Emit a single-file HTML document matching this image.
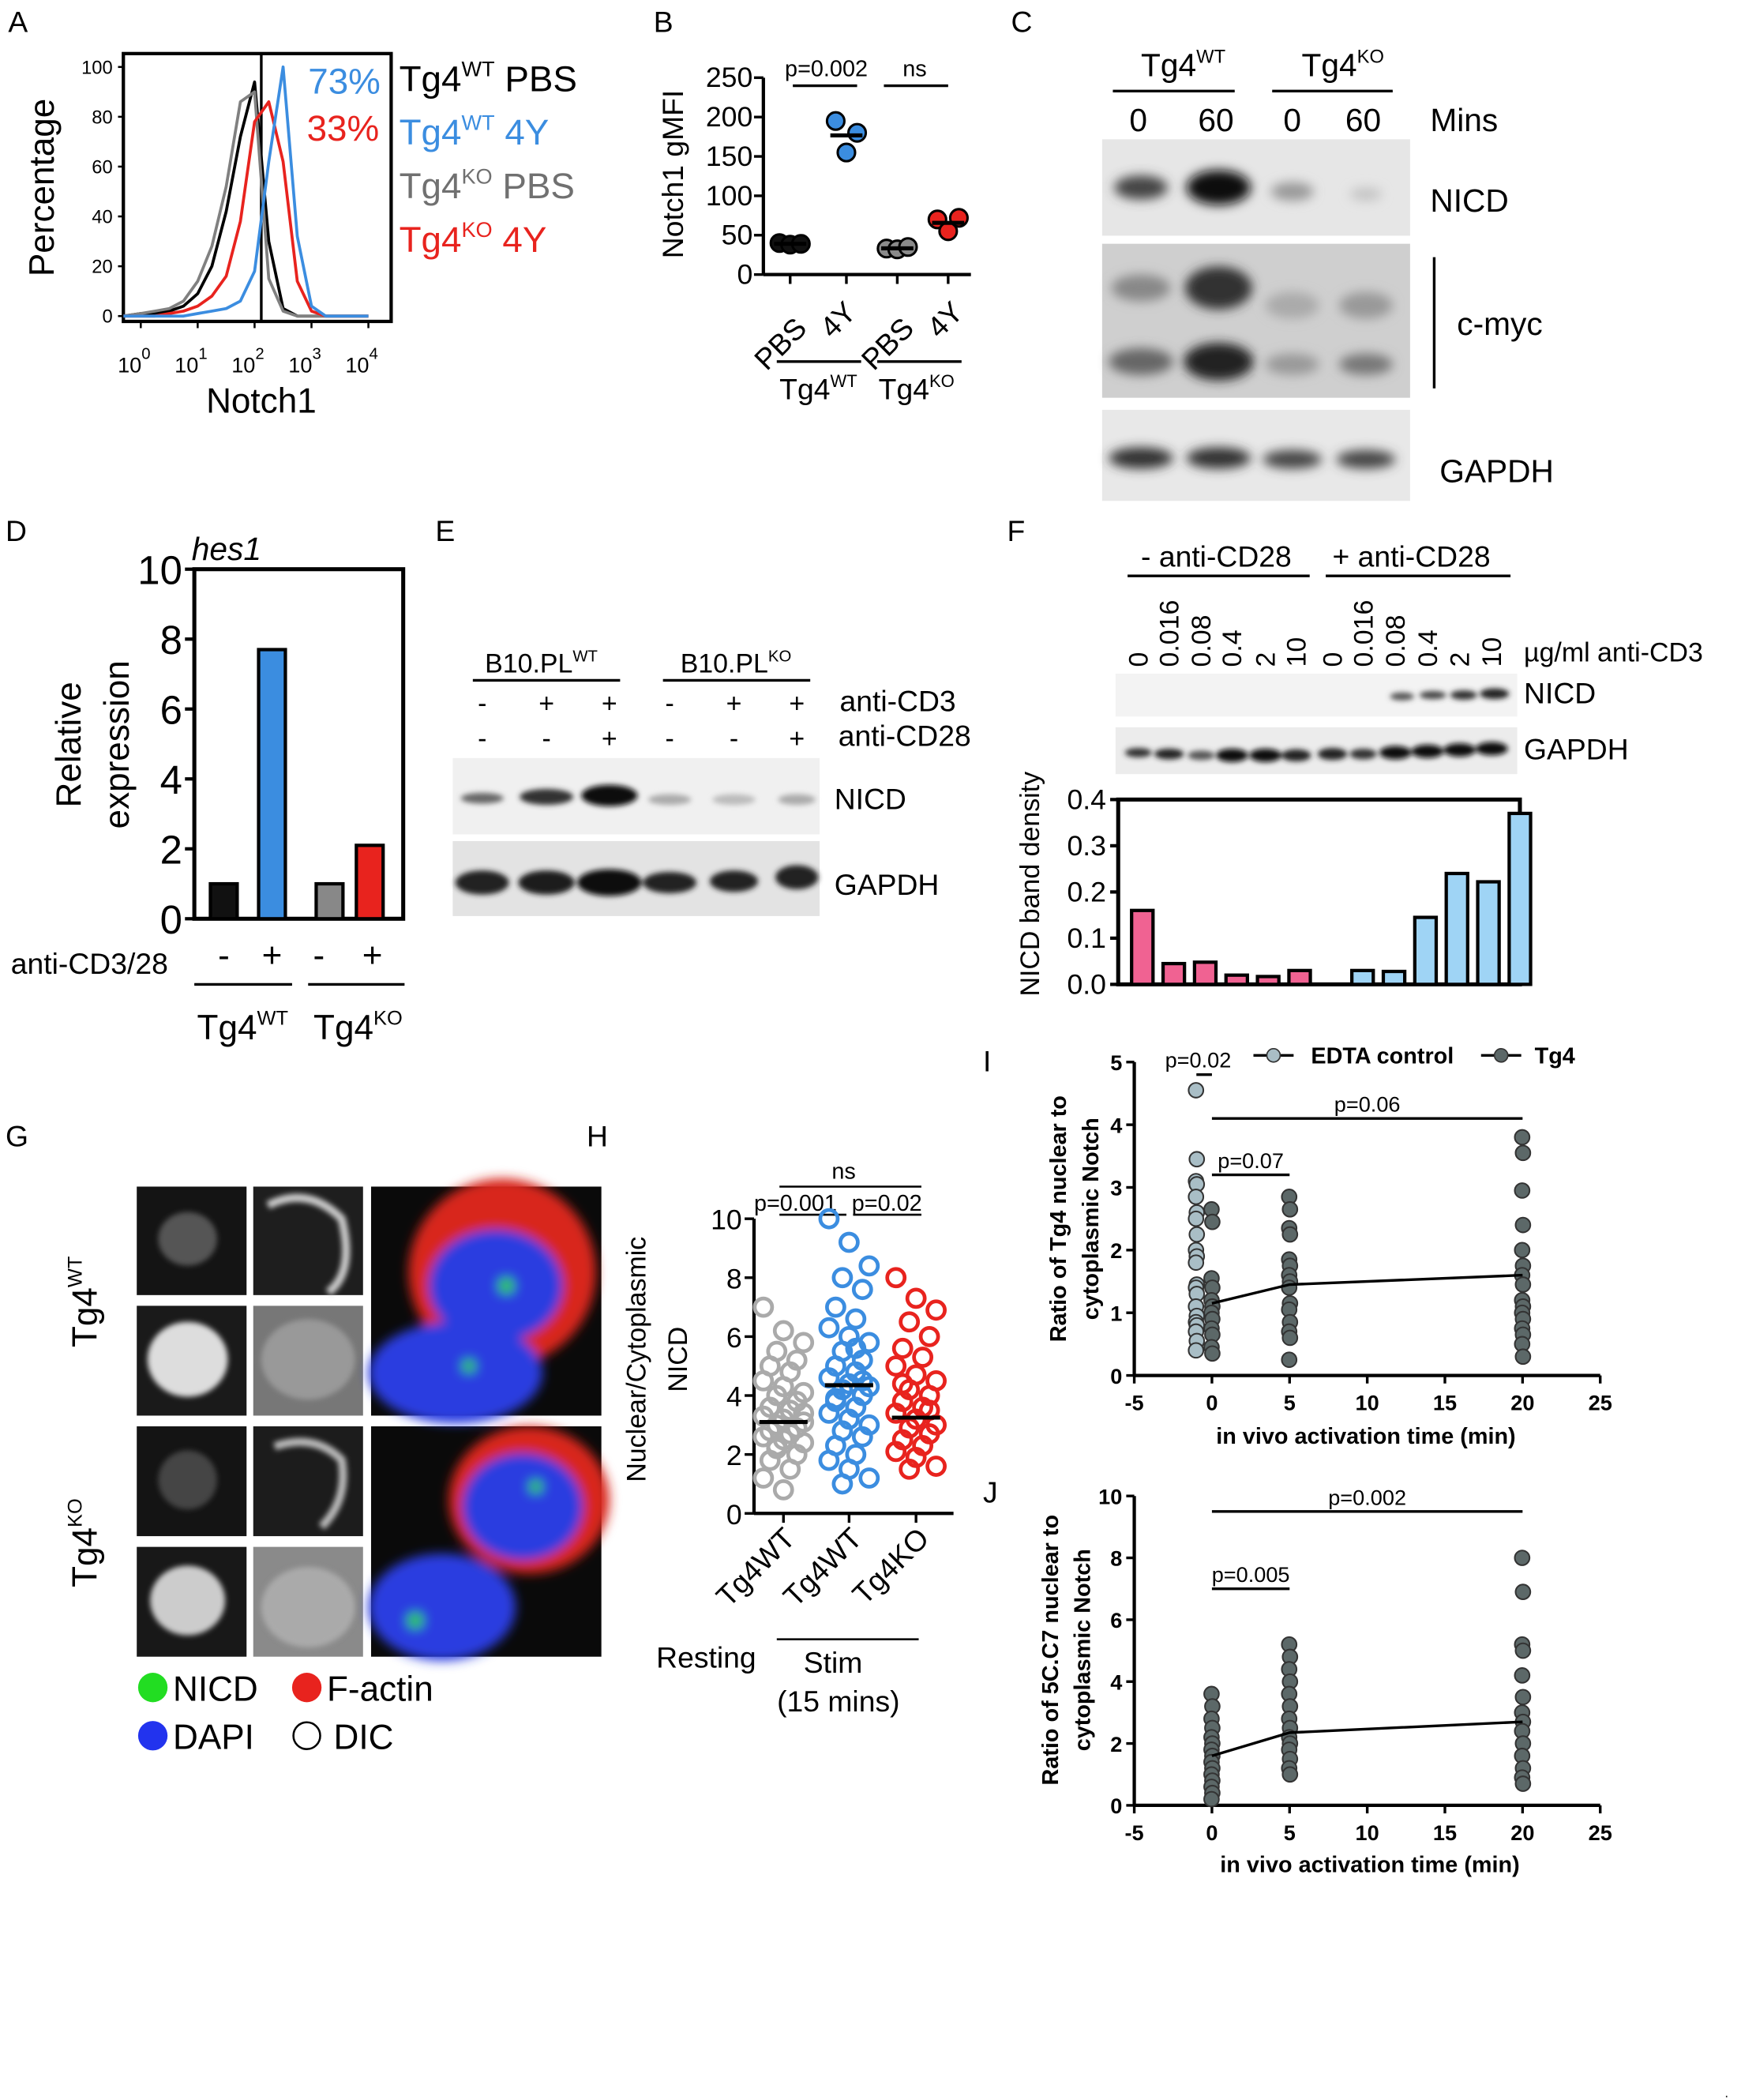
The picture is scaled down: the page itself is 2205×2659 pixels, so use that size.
<!DOCTYPE html>
<html><head><meta charset="utf-8"><style>
html,body{margin:0;padding:0;background:#fff}
svg{display:block;font-family:"Liberation Sans",Arial,sans-serif}
</style></head><body>
<svg id="fig" xmlns="http://www.w3.org/2000/svg" width="2205" height="2659" viewBox="0 0 1300 1568">
<rect width="1300" height="1568" fill="#fff"/>
<defs>
<filter id="blur2"><feGaussianBlur stdDeviation="4"/></filter>
<filter id="blur1"><feGaussianBlur stdDeviation="2"/></filter>
</defs>
<g font-size="22">
<text x="6" y="24">A</text><text x="488" y="24">B</text><text x="755" y="24">C</text>
<text x="4" y="404">D</text><text x="325" y="404">E</text><text x="752" y="404">F</text>
<text x="4" y="856">G</text><text x="438" y="856">H</text><text x="734" y="800">I</text><text x="734" y="1122">J</text>
</g>

<g id="pa">
<rect x="92" y="40" width="200" height="200" fill="none" stroke="#000" stroke-width="2.5"/>
<line x1="195" y1="40" x2="195" y2="240" stroke="#000" stroke-width="2"/>
<text transform="translate(40,140) rotate(-90)" text-anchor="middle" font-size="26">Percentage</text>
<text x="195" y="308" text-anchor="middle" font-size="26">Notch1</text>
<text x="230" y="70" font-size="27" fill="#3b8de0">73%</text>
<text x="229" y="105" font-size="27" fill="#e8231e">33%</text>
<g font-size="27">
<text x="298" y="68">Tg4<tspan font-size="16" dy="-11">WT</tspan><tspan dy="11"> PBS</tspan></text>
<text x="298" y="108" fill="#3b8de0">Tg4<tspan font-size="16" dy="-11">WT</tspan><tspan dy="11"> 4Y</tspan></text>
<text x="298" y="148" fill="#707070">Tg4<tspan font-size="16" dy="-11">KO</tspan><tspan dy="11"> PBS</tspan></text>
<text x="298" y="188" fill="#e8231e">Tg4<tspan font-size="16" dy="-11">KO</tspan><tspan dy="11"> 4Y</tspan></text>
</g>
</g>

<g id="pb">
<text transform="translate(510,130) rotate(-90)" text-anchor="middle" font-size="22">Notch1 gMFI</text>
<text x="617" y="57" text-anchor="middle" font-size="17">p=0.002</text>
<line x1="592" y1="64" x2="640" y2="64" stroke="#000" stroke-width="2"/>
<text x="683" y="57" text-anchor="middle" font-size="17">ns</text>
<line x1="660" y1="64" x2="708" y2="64" stroke="#000" stroke-width="2"/>
<g font-size="22" text-anchor="middle">
<text transform="translate(588,262) rotate(-45)">PBS</text><text transform="translate(631,244) rotate(-45)">4Y</text>
<text transform="translate(668,262) rotate(-45)">PBS</text><text transform="translate(711,244) rotate(-45)">4Y</text>
</g>
<line x1="580" y1="270" x2="643" y2="270" stroke="#000" stroke-width="2"/>
<line x1="655" y1="270" x2="718" y2="270" stroke="#000" stroke-width="2"/>
<text x="582" y="298" font-size="22">Tg4<tspan font-size="13" dy="-9">WT</tspan></text>
<text x="656" y="298" font-size="22">Tg4<tspan font-size="13" dy="-9">KO</tspan></text>
</g>

<g id="pc">
<text x="852" y="57" font-size="24">Tg4<tspan font-size="14" dy="-10">WT</tspan></text>
<text x="972" y="57" font-size="24">Tg4<tspan font-size="14" dy="-10">KO</tspan></text>
<line x1="831" y1="68" x2="922" y2="68" stroke="#000" stroke-width="2"/>
<line x1="950" y1="68" x2="1040" y2="68" stroke="#000" stroke-width="2"/>
<g font-size="24" text-anchor="middle"><text x="850" y="98">0</text><text x="908" y="98">60</text><text x="965" y="98">0</text><text x="1018" y="98">60</text></g>
<text x="1068" y="98" font-size="24">Mins</text>
<rect x="823" y="104" width="230" height="72" fill="#e6e6e6"/>
<rect x="823" y="182" width="230" height="115" fill="#cfcfcf"/>
<rect x="823" y="306" width="230" height="68" fill="#e8e8e8"/>
<g filter="url(#blur2)">
<ellipse cx="852" cy="140" rx="20" ry="9" fill="#444"/><ellipse cx="910" cy="140" rx="24" ry="13" fill="#111"/>
<ellipse cx="965" cy="143" rx="16" ry="7" fill="#999"/><ellipse cx="1020" cy="145" rx="12" ry="5" fill="#c4c4c4"/>
<ellipse cx="852" cy="215" rx="22" ry="10" fill="#888"/><ellipse cx="910" cy="215" rx="25" ry="16" fill="#333"/>
<ellipse cx="852" cy="270" rx="24" ry="10" fill="#666"/><ellipse cx="910" cy="270" rx="26" ry="14" fill="#222"/>
<ellipse cx="965" cy="228" rx="20" ry="10" fill="#aaa"/><ellipse cx="1020" cy="228" rx="20" ry="10" fill="#999"/>
<ellipse cx="965" cy="272" rx="20" ry="8" fill="#999"/><ellipse cx="1020" cy="272" rx="20" ry="8" fill="#777"/>
<ellipse cx="852" cy="342" rx="24" ry="8" fill="#333"/><ellipse cx="910" cy="342" rx="24" ry="8" fill="#333"/>
<ellipse cx="965" cy="343" rx="22" ry="7" fill="#444"/><ellipse cx="1020" cy="343" rx="22" ry="7" fill="#444"/>
</g>
<text x="1068" y="158" font-size="24">NICD</text>
<line x1="1071" y1="192" x2="1071" y2="290" stroke="#000" stroke-width="2"/>
<text x="1088" y="250" font-size="24">c-myc</text>
<text x="1075" y="360" font-size="24">GAPDH</text>
</g>

<g id="pd">
<text x="143" y="418" font-size="24" font-style="italic">hes1</text>
<text transform="translate(60,556) rotate(-90)" text-anchor="middle" font-size="26">Relative</text>
<text transform="translate(96,556) rotate(-90)" text-anchor="middle" font-size="26">expression</text>
<text x="8" y="727" font-size="22">anti-CD3/28</text>
<g font-size="26" text-anchor="middle"><text x="167" y="722">-</text><text x="203" y="722">+</text><text x="238" y="722">-</text><text x="278" y="722">+</text></g>
<line x1="145" y1="735" x2="218" y2="735" stroke="#000" stroke-width="2"/>
<line x1="230" y1="735" x2="302" y2="735" stroke="#000" stroke-width="2"/>
<text x="147" y="776" font-size="26">Tg4<tspan font-size="15" dy="-11">WT</tspan></text>
<text x="234" y="776" font-size="26">Tg4<tspan font-size="15" dy="-11">KO</tspan></text>
</g>

<g id="pe">
<text x="362" y="502" font-size="20">B10.PL<tspan font-size="12" dy="-8">WT</tspan></text>
<text x="508" y="502" font-size="20">B10.PL<tspan font-size="12" dy="-8">KO</tspan></text>
<line x1="353" y1="508" x2="463" y2="508" stroke="#000" stroke-width="2"/>
<line x1="495" y1="508" x2="605" y2="508" stroke="#000" stroke-width="2"/>
<g font-size="20" text-anchor="middle">
<text x="360" y="532">-</text><text x="408" y="532">+</text><text x="455" y="532">+</text><text x="500" y="532">-</text><text x="548" y="532">+</text><text x="595" y="532">+</text>
<text x="360" y="558">-</text><text x="408" y="558">-</text><text x="455" y="558">+</text><text x="500" y="558">-</text><text x="548" y="558">-</text><text x="595" y="558">+</text>
</g>
<text x="627" y="531" font-size="22">anti-CD3</text><text x="626" y="557" font-size="22">anti-CD28</text>
<rect x="338" y="566" width="274" height="57" fill="#f0f0f0"/>
<rect x="338" y="628" width="274" height="56" fill="#e3e3e3"/>
<g filter="url(#blur1)">
<ellipse cx="360" cy="596" rx="16" ry="4" fill="#666"/><ellipse cx="408" cy="595" rx="20" ry="6" fill="#333"/><ellipse cx="455" cy="594" rx="21" ry="8" fill="#111"/>
<ellipse cx="500" cy="597" rx="16" ry="4" fill="#aaa"/><ellipse cx="548" cy="597" rx="16" ry="4" fill="#bbb"/><ellipse cx="595" cy="597" rx="14" ry="4" fill="#aaa"/>
<ellipse cx="360" cy="659" rx="20" ry="9" fill="#222"/><ellipse cx="408" cy="659" rx="21" ry="9" fill="#1a1a1a"/><ellipse cx="455" cy="659" rx="24" ry="10" fill="#111"/>
<ellipse cx="500" cy="659" rx="20" ry="8" fill="#222"/><ellipse cx="548" cy="658" rx="18" ry="8" fill="#222"/><ellipse cx="595" cy="655" rx="16" ry="9" fill="#222"/>
</g>
<text x="623" y="604" font-size="22">NICD</text><text x="623" y="668" font-size="22">GAPDH</text>
</g>

<g id="pf">
<text x="852" y="423" font-size="22">- anti-CD28</text>
<text x="995" y="423" font-size="22">+ anti-CD28</text>
<line x1="842" y1="430" x2="978" y2="430" stroke="#000" stroke-width="2"/>
<line x1="990" y1="430" x2="1128" y2="430" stroke="#000" stroke-width="2"/>
<g id="fconc" font-size="20"></g>
<text x="1138" y="494" font-size="20">µg/ml anti-CD3</text>
<rect x="833" y="503" width="300" height="32" fill="#f3f3f3"/>
<rect x="833" y="543" width="300" height="35" fill="#ececec"/>
<g filter="url(#blur1)">
<ellipse cx="1070" cy="519" rx="10" ry="3" fill="#444"/><ellipse cx="1093" cy="519" rx="10" ry="3.5" fill="#333"/><ellipse cx="1116" cy="518" rx="11" ry="4" fill="#222"/><ellipse cx="1047" cy="520" rx="9" ry="3" fill="#555"/>
<ellipse cx="850" cy="562" rx="10" ry="3.5" fill="#333"/><ellipse cx="873" cy="563" rx="11" ry="4" fill="#222"/><ellipse cx="897" cy="564" rx="10" ry="3.5" fill="#555"/>
<ellipse cx="920" cy="564" rx="12" ry="5" fill="#111"/><ellipse cx="945" cy="564" rx="12" ry="5" fill="#111"/><ellipse cx="968" cy="564" rx="11" ry="4.5" fill="#222"/>
<ellipse cx="995" cy="563" rx="11" ry="4.5" fill="#222"/><ellipse cx="1018" cy="563" rx="10" ry="4" fill="#333"/><ellipse cx="1042" cy="562" rx="12" ry="5" fill="#111"/>
<ellipse cx="1066" cy="561" rx="12" ry="5" fill="#111"/><ellipse cx="1090" cy="560" rx="12" ry="5" fill="#111"/><ellipse cx="1114" cy="559" rx="12" ry="5" fill="#111"/>
</g>
<text x="1138" y="525" font-size="22">NICD</text><text x="1138" y="567" font-size="22">GAPDH</text>
<text transform="translate(776,660) rotate(-90)" text-anchor="middle" font-size="20">NICD band density</text>
</g>

<g id="pg">
<text transform="translate(72,972) rotate(-90)" text-anchor="middle" font-size="26">Tg4<tspan font-size="15" dy="-11">WT</tspan></text>
<text transform="translate(72,1152) rotate(-90)" text-anchor="middle" font-size="26">Tg4<tspan font-size="15" dy="-11">KO</tspan></text>
<rect x="102" y="886" width="82" height="81" fill="#141414"/><rect x="189" y="886" width="82" height="81" fill="#1e1e1e"/>
<rect x="102" y="975" width="82" height="82" fill="#1a1a1a"/><rect x="189" y="975" width="82" height="82" fill="#777"/>
<rect x="102" y="1065" width="82" height="82" fill="#141414"/><rect x="189" y="1065" width="82" height="82" fill="#1c1c1c"/>
<rect x="102" y="1155" width="82" height="82" fill="#181818"/><rect x="189" y="1155" width="82" height="82" fill="#8a8a8a"/>
<g filter="url(#blur1)" fill="#bbb">
<ellipse cx="140" cy="925" rx="22" ry="20" fill="#555"/><path d="M200 900 q30 -15 55 10 q10 40 -10 55" stroke="#ccc" stroke-width="6" fill="none"/>
<ellipse cx="140" cy="1015" rx="30" ry="28" fill="#ddd"/><ellipse cx="230" cy="1015" rx="35" ry="30" fill="#999"/>
<ellipse cx="140" cy="1105" rx="22" ry="22" fill="#444"/><path d="M205 1080 q30 -10 50 10 q5 30 -15 50" stroke="#bbb" stroke-width="6" fill="none"/>
<ellipse cx="140" cy="1195" rx="28" ry="26" fill="#ccc"/><ellipse cx="230" cy="1200" rx="35" ry="30" fill="#aaa"/>
</g>
<rect x="277" y="886" width="172" height="171" fill="#0a0a0a"/>
<rect x="277" y="1065" width="172" height="172" fill="#0a0a0a"/>
<g filter="url(#blur2)">
<ellipse cx="375" cy="950" rx="70" ry="70" fill="#d8281e"/><ellipse cx="370" cy="960" rx="50" ry="42" fill="#2a3ee0"/><ellipse cx="340" cy="1025" rx="65" ry="38" fill="#2a3ee0"/>
<ellipse cx="395" cy="1120" rx="60" ry="55" fill="#d8281e"/><ellipse cx="390" cy="1125" rx="45" ry="40" fill="#2a3ee0"/><ellipse cx="330" cy="1200" rx="55" ry="40" fill="#2a3ee0"/>
<circle cx="378" cy="960" r="6" fill="#3c3"/><circle cx="350" cy="1020" r="5" fill="#3c3"/><circle cx="400" cy="1110" r="5" fill="#3c3"/><circle cx="310" cy="1210" r="6" fill="#3c3"/>
</g>
<g font-size="26">
<circle cx="114" cy="1260" r="11" fill="#22dd22"/><text x="129" y="1270">NICD</text>
<circle cx="229" cy="1260" r="11" fill="#e8231e"/><text x="244" y="1270">F-actin</text>
<circle cx="114" cy="1296" r="11" fill="#2233ee"/><text x="129" y="1306">DAPI</text>
<circle cx="229" cy="1296" r="10" fill="#fff" stroke="#000" stroke-width="1.5"/><text x="249" y="1306">DIC</text>
</g>
</g>

<g id="ph">
<text transform="translate(482,1015) rotate(-90)" text-anchor="middle" font-size="20">Nuclear/Cytoplasmic</text>
<text transform="translate(513,1015) rotate(-90)" text-anchor="middle" font-size="20">NICD</text>
<text x="630" y="880" text-anchor="middle" font-size="17">ns</text>
<line x1="582" y1="886" x2="688" y2="886" stroke="#000" stroke-width="1.5"/>
<text x="563" y="904" font-size="17">p=0.001</text><text x="636" y="904" font-size="17">p=0.02</text>
<line x1="582" y1="907" x2="632" y2="907" stroke="#000" stroke-width="1.5"/><line x1="637" y1="907" x2="688" y2="907" stroke="#000" stroke-width="1.5"/>
<g font-size="22" text-anchor="end">
<text transform="translate(595,1150) rotate(-45)">Tg4WT</text><text transform="translate(645,1150) rotate(-45)">Tg4WT</text><text transform="translate(695,1150) rotate(-45)">Tg4KO</text>
</g>
<text x="490" y="1245" font-size="22">Resting</text>
<line x1="580" y1="1224" x2="686" y2="1224" stroke="#000" stroke-width="1.5"/>
<text x="622" y="1249" text-anchor="middle" font-size="22">Stim</text>
<text x="626" y="1278" text-anchor="middle" font-size="22">(15 mins)</text>
</g>

<g id="pi">
<text transform="translate(796,910) rotate(-90)" text-anchor="middle" font-size="17" font-weight="bold">Ratio of Tg4 nuclear to</text>
<text transform="translate(820,910) rotate(-90)" text-anchor="middle" font-size="17" font-weight="bold">cytoplasmic Notch</text>
<text x="1020" y="1078" text-anchor="middle" font-size="17" font-weight="bold">in vivo activation time (min)</text>
<g font-size="17" font-weight="bold">
<line x1="936" y1="788" x2="966" y2="788" stroke="#000" stroke-width="2"/><circle cx="951" cy="788" r="5" fill="#a9bec6" stroke="#333"/><text x="979" y="794">EDTA control</text>
<line x1="1106" y1="788" x2="1136" y2="788" stroke="#000" stroke-width="2"/><circle cx="1121" cy="788" r="5" fill="#5c6868" stroke="#333"/><text x="1146" y="794">Tg4</text>
</g>
<text x="870" y="797" font-size="16">p=0.02</text>
</g>
<g id="pj">
<text transform="translate(790,1232) rotate(-90)" text-anchor="middle" font-size="17" font-weight="bold">Ratio of 5C.C7 nuclear to</text>
<text transform="translate(814,1232) rotate(-90)" text-anchor="middle" font-size="17" font-weight="bold">cytoplasmic Notch</text>
<text x="1023" y="1398" text-anchor="middle" font-size="17" font-weight="bold">in vivo activation time (min)</text>
</g>
<text x="1288" y="1566" font-size="10">.</text>
</svg>
<script>
var NS="http://www.w3.org/2000/svg";
function mk(parent,tag,attrs){var e=document.createElementNS(NS,tag);for(var k in attrs)e.setAttribute(k,attrs[k]);parent.appendChild(e);return e;}
function txt(parent,x,y,s,size,anchor){var t=mk(parent,"text",{x:x,y:y,"font-size":size,"text-anchor":anchor||"middle"});t.textContent=s;return t;}

var histLogX=[0,0.25,0.5,0.75,1,1.25,1.5,1.75,2,2.25,2.5,2.75,3,3.25,3.5,3.75,4];
var histWTPBS=[1,1,2,4,9,20,42,72,94,30,3,0,0,0,0,0,0];
var histKOPBS=[1,2,3,6,14,28,52,86,90,15,2,0,0,0,0,0,0];
var histKO4Y=[0,0,1,2,4,8,16,38,78,86,62,14,2,0,0,0,0];
var histWT4Y=[0,0,0,0,1,2,3,6,18,62,100,32,4,0,0,0,0];
var aYTicks=[0,20,40,60,80,100];
var aXTickLabels=["0","1","2","3","4"];
(function(){
 var g=document.getElementById("pa");
 var xs=function(l){return 105+l*42.5;}, ys=function(v){return 236-v*1.86;};
 var series=[[histWTPBS,"#000","hist-wt-pbs"],[histKOPBS,"#808080","hist-ko-pbs"],[histKO4Y,"#e8231e","hist-ko-4y"],[histWT4Y,"#3b8de0","hist-wt-4y"]];
 series.forEach(function(s){
  var d="M92 "+ys(0);
  for(var i=0;i<histLogX.length;i++)d+=" L"+xs(histLogX[i]).toFixed(1)+" "+ys(s[0][i]).toFixed(1);
  var p=mk(g,"path",{d:d,fill:"none",stroke:s[1],"stroke-width":2.2,"stroke-linejoin":"round"});
  
  
 });
 aYTicks.forEach(function(v){mk(g,"line",{x1:88,x2:92,y1:ys(v),y2:ys(v),stroke:"#000","stroke-width":1.5});txt(g,84,ys(v)+5,String(v),14,"end");});
 aXTickLabels.forEach(function(s,i){var x=xs(i);mk(g,"line",{x1:x,x2:x,y1:240,y2:245,stroke:"#000","stroke-width":1.5});
  var t=txt(g,x-5,278,"10",16);var sp=document.createElementNS(NS,"tspan");sp.setAttribute("font-size","12");sp.setAttribute("dy","-10");sp.textContent=s;t.appendChild(sp);});
})();

var bGroups=["WT PBS","WT 4Y","KO PBS","KO 4Y"];
var bValues=[[40,38,39],[195,155,180],[33,32,35],[70,55,72]];
var bYTicks=[0,50,100,150,200,250];
(function(){
 var g=document.getElementById("pb");
 var ys=function(v){return 205-v*0.588;};var gx=[590,632,670,708];
 var fills=["#111","#3b8de0","#8a8a8a","#e8231e"];
 mk(g,"line",{x1:570,x2:570,y1:ys(0),y2:ys(250),stroke:"#000","stroke-width":2.5});
 mk(g,"line",{x1:570,x2:725,y1:ys(0),y2:ys(0),stroke:"#000","stroke-width":2.5});
 bYTicks.forEach(function(v){mk(g,"line",{x1:563,x2:570,y1:ys(v),y2:ys(v),stroke:"#000","stroke-width":2});txt(g,562,ys(v)+7,String(v),21,"end");});
 gx.forEach(function(x){mk(g,"line",{x1:x,x2:x,y1:205,y2:212,stroke:"#000","stroke-width":2});});
 bValues.forEach(function(vals,i){
  var offs=[-8,0,8];
  vals.forEach(function(v,j){var c=mk(g,"circle",{cx:gx[i]+offs[j],cy:ys(v),r:6.5,fill:fills[i],stroke:"#000","stroke-width":1.8});
   
   });
  var m=(vals[0]+vals[1]+vals[2])/3;
  mk(g,"line",{x1:gx[i]-12,x2:gx[i]+12,y1:ys(m),y2:ys(m),stroke:"#000","stroke-width":3});
 });
})();

var dCategories=["WT -","WT +","KO -","KO +"];
var dValues=[1,7.7,1,2.1];
var dYTicks=[0,2,4,6,8,10];
(function(){
 var g=document.getElementById("pd");
 var ys=function(v){return 686-v*26.1;};var bx=[167,203,246,276];var cols=["#111","#3b8de0","#888","#e8231e"];
 mk(g,"rect",{x:145,y:ys(10),width:156,height:ys(0)-ys(10),fill:"none",stroke:"#000","stroke-width":3});
 dYTicks.forEach(function(v){mk(g,"line",{x1:138,x2:145,y1:ys(v),y2:ys(v),stroke:"#000","stroke-width":2.5});txt(g,136,ys(v)+11,String(v),30,"end");});
 dValues.forEach(function(v,i){var r=mk(g,"rect",{x:bx[i]-10,y:ys(v),width:20,height:ys(0)-ys(v),fill:cols[i],stroke:"#000","stroke-width":2.5});
  
  });
})();

var fConc=["0","0.016","0.08","0.4","2","10","0","0.016","0.08","0.4","2","10"];
var fMinusCD28=[0.16,0.045,0.048,0.02,0.017,0.03];
var fPlusCD28=[0,0.03,0.028,0.145,0.24,0.222,0.37];
var fYTicks=[0,0.1,0.2,0.3,0.4];
(function(){
 var g=document.getElementById("pf");var cg=document.getElementById("fconc");
 var cx=[850,873,897,920,945,968,995,1018,1042,1066,1090,1114];
 fConc.forEach(function(s,i){var t=txt(cg,0,0,s,20,"start");t.setAttribute("transform","translate("+(cx[i]+7)+",498) rotate(-90)");});
 var ys=function(v){return 735-v*345;};
 mk(g,"rect",{x:835,y:ys(0.4),width:300,height:ys(0)-ys(0.4),fill:"none",stroke:"#000","stroke-width":3});
 fYTicks.forEach(function(v){mk(g,"line",{x1:829,x2:835,y1:ys(v),y2:ys(v),stroke:"#000","stroke-width":2.5});txt(g,826,ys(v)+7,v.toFixed(1),21,"end");});
 var step=23.5,x0=845;
 var all=fMinusCD28.map(function(v){return [v,"#f06292"];}).concat(fPlusCD28.map(function(v){return [v,"#9fd4f5"];}));
 all.forEach(function(b,i){if(b[0]<=0)return;var r=mk(g,"rect",{x:x0+i*step,y:ys(b[0]),width:16,height:ys(0)-ys(b[0]),fill:b[1],stroke:"#000","stroke-width":2.5});
  
  });
})();

var hRestWT=[7,6.2,5.8,5.5,5.2,5,4.8,4.5,4.3,4.1,4,3.8,3.6,3.5,3.3,3.2,3.1,3,2.9,2.8,2.7,2.6,2.5,2.4,2.2,2,1.8,1.5,1.2,0.8,3.4,2.3];
var hStimWT=[10,9.2,8.4,8,7.6,7,6.6,6.3,6,5.8,5.5,5.2,5,4.8,4.6,4.4,4.3,4.2,4,3.8,3.6,3.4,3.2,3,2.8,2.6,2.3,2,1.8,1.5,1.2,1,4.5,3.9,5.6];
var hStimKO=[8,7.3,6.9,6.5,6,5.6,5.3,5,4.7,4.5,4.2,4,3.8,3.6,3.4,3.2,3,2.9,2.7,2.5,2.3,2.1,1.9,1.6,1.5,3.5,4.4];
var hMeans=[3.1,4.35,3.25];
var hYTicks=[0,2,4,6,8,10];
(function(){
 var g=document.getElementById("ph");
 var ys=function(v){return 1130-v*22;};
 mk(g,"line",{x1:563,x2:563,y1:ys(0),y2:ys(10),stroke:"#000","stroke-width":2.5});
 mk(g,"line",{x1:563,x2:712,y1:ys(0),y2:ys(0),stroke:"#000","stroke-width":2.5});
 hYTicks.forEach(function(v){mk(g,"line",{x1:556,x2:563,y1:ys(v),y2:ys(v),stroke:"#000","stroke-width":2});txt(g,554,ys(v)+8,String(v),21,"end");});
 var gx=[585,634,684],cols=["#aaaaaa","#3b8de0","#e8231e"],sets=[hRestWT,hStimWT,hStimKO];
 gx.forEach(function(x){mk(g,"line",{x1:x,x2:x,y1:1130,y2:1137,stroke:"#000","stroke-width":2});});
 sets.forEach(function(arr,k){arr.forEach(function(v,i){var off=((i*3)%7-3)*5;
  var c=mk(g,"circle",{cx:gx[k]+off,cy:ys(v),r:6.5,fill:"none",stroke:cols[k],"stroke-width":2.8});
  
  });
  mk(g,"line",{x1:gx[k]-18,x2:gx[k]+18,y1:ys(hMeans[k]),y2:ys(hMeans[k]),stroke:"#000","stroke-width":3});});
})();

var xTicksIJ=[-5,0,5,10,15,20,25];
var iEDTA=[4.55,3.45,3.1,3.05,2.85,2.6,2.5,2.25,2,1.9,1.8,1.45,1.4,1.3,1.1,0.95,0.85,0.8,0.7,0.55,0.4];
var iTg4_0=[2.65,2.45,1.55,1.4,1.2,1.1,1,0.9,0.75,0.65,0.45,0.35];
var iTg4_5=[2.85,2.65,2.35,2.25,1.85,1.75,1.6,1.5,1.4,1.15,1.05,0.85,0.7,0.6,0.25];
var iTg4_20=[3.8,3.55,2.95,2.4,2,1.75,1.6,1.45,1.2,1.1,1,0.9,0.75,0.65,0.5,0.3];
var iMeans=[1.15,1.45,1.6];
var jT0=[3.6,3.2,2.8,2.5,2.2,2,1.8,1.6,1.4,1.2,1,0.8,0.6,0.4,0.2];
var jT5=[5.2,4.8,4.4,4,3.6,3.2,2.8,2.5,2.2,2,1.8,1.5,1.2,1];
var jT20=[8,6.9,5.2,5,4.2,3.5,3,2.7,2.4,2,1.6,1.2,0.9,0.7];
var jMeans=[1.6,2.35,2.7];
function ijPlot(gid,y0,yTop,ymax,ystep,groups,means,brackets){
 var g=document.getElementById(gid);
 var xs=function(t){return 847+(t+5)*11.6;};var ys=function(v){return y0-(v/ymax)*(y0-yTop);};
 mk(g,"line",{x1:xs(-5),x2:xs(25),y1:y0,y2:y0,stroke:"#000","stroke-width":2.5});
 mk(g,"line",{x1:xs(-5),x2:xs(-5),y1:y0,y2:yTop,stroke:"#000","stroke-width":2.5});
 xTicksIJ.forEach(function(t){mk(g,"line",{x1:xs(t),x2:xs(t),y1:y0,y2:y0+6,stroke:"#000","stroke-width":2});var tt=txt(g,xs(t),y0+26,String(t),16);tt.setAttribute("font-weight","bold");});
 for(var v=0;v<=ymax;v+=ystep){mk(g,"line",{x1:xs(-5)-6,x2:xs(-5),y1:ys(v),y2:ys(v),stroke:"#000","stroke-width":2});var tt=txt(g,xs(-5)-9,ys(v)+6,String(v),16,"end");tt.setAttribute("font-weight","bold");}
 groups.forEach(function(gr){gr.vals.forEach(function(v,i){var c=mk(g,"circle",{cx:xs(gr.t)+((i%2)?0.3:-0.3),cy:ys(v),r:5.5,fill:gr.fill,stroke:"#333","stroke-width":1.2});
  
  });});
 var mt=[0,5,20];var d="";mt.forEach(function(t,i){d+=(i?" L":"M")+xs(t)+" "+ys(means[i]);});
 var p=mk(g,"path",{d:d,fill:"none",stroke:"#000","stroke-width":2});
 
 
 brackets.forEach(function(b){mk(g,"line",{x1:xs(b[0]),x2:xs(b[1]),y1:ys(b[2]),y2:ys(b[2]),stroke:"#000","stroke-width":2});if(b[3])txt(g,(xs(b[0])+xs(b[1]))/2,ys(b[2])-5,b[3],16);});
}
ijPlot("pi",1027,793,5,1,[{t:-1,vals:iEDTA,fill:"#a9bec6"},{t:0,vals:iTg4_0,fill:"#5c6868"},{t:5,vals:iTg4_5,fill:"#5c6868"},{t:20,vals:iTg4_20,fill:"#5c6868"}],iMeans,[[-1,0,4.8,""],[0,20,4.1,"p=0.06"],[0,5,3.2,"p=0.07"]]);
ijPlot("pj",1348,1117,10,2,[{t:0,vals:jT0,fill:"#5c6868"},{t:5,vals:jT5,fill:"#5c6868"},{t:20,vals:jT20,fill:"#5c6868"}],jMeans,[[0,20,9.5,"p=0.002"],[0,5,7,"p=0.005"]]);
</script>
</body></html>
